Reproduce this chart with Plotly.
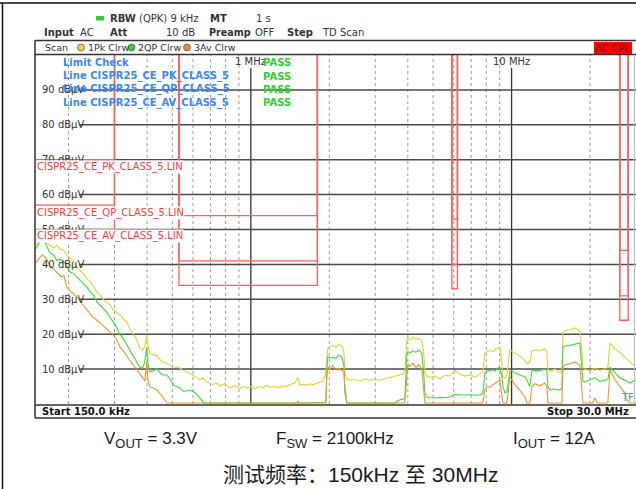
import math
import plotly.graph_objects as go

# ---- measured traces (MHz, dBuV) ----
pk_freq = [0.150, 0.155, 0.161, 0.165, 0.170, 0.176, 0.180, 0.185, 0.192, 0.197,
           0.203, 0.208, 0.215, 0.221, 0.229, 0.235, 0.243, 0.248, 0.257, 0.263,
           0.271, 0.280, 0.288, 0.296, 0.306, 0.315, 0.326, 0.335, 0.343, 0.356,
           0.365, 0.375, 0.385, 0.392, 0.399, 0.403, 0.410, 0.425, 0.436, 0.448,
           0.460, 0.476, 0.489, 0.507, 0.520, 0.534, 0.553, 0.583, 0.610, 0.637,
           0.655, 0.678, 0.715, 0.741, 0.761, 0.795, 0.831, 0.868, 0.907, 0.932,
           0.965, 1.000, 1.036, 1.083, 1.112, 1.152, 1.183, 1.236, 1.292, 1.327,
           1.374, 1.411, 1.475, 1.514, 1.542, 1.583, 1.640, 1.684, 1.729, 1.792,
           1.839, 1.889, 1.940, 1.957, 1.974, 2.009, 2.063, 2.118, 2.176, 2.234,
           2.274, 2.294, 2.335, 2.397, 2.506, 2.619, 2.737, 2.861, 2.990, 3.125,
           3.266, 3.413, 3.567, 3.728, 3.828, 3.897, 3.966, 4.002, 4.073, 4.183,
           4.295, 4.410, 4.529, 4.610, 4.651, 4.733, 4.861, 5.080, 5.309, 5.548,
           5.799, 6.060, 6.334, 6.620, 6.919, 7.232, 7.558, 7.761, 7.899, 8.040,
           8.255, 8.477, 8.630, 8.861, 9.020, 9.181, 9.262, 9.425, 9.594, 9.852,
           10.03, 10.30, 10.76, 11.25, 11.45, 11.75, 11.96, 12.28, 12.84, 13.42,
           13.66, 13.78, 14.03, 14.66, 15.32, 15.60, 15.73, 16.01, 16.73, 17.49,
           18.28, 18.61, 18.77, 19.10, 19.97, 20.87, 21.81, 22.80, 23.40, 23.83,
           24.26, 24.91, 26.03, 27.21, 28.44, 29.20, 30.0]
pk_level = [45.5, 47.0, 47.5, 46.0, 45.5, 44.7, 45.5, 44.5, 44.0, 42.5,
            41.8, 41.0, 39.0, 38.5, 37.0, 36.0, 34.6, 34.0, 32.0, 31.5,
            30.0, 29.2, 28.5, 27.0, 26.3, 25.5, 24.2, 23.5, 21.5, 19.8,
            18.5, 16.0, 15.5, 16.5, 19.8, 17.0, 14.6, 14.0, 14.0, 12.8,
            12.0, 11.7, 11.0, 10.6, 10.6, 10.3, 9.5, 8.9, 8.0, 6.9,
            7.5, 6.2, 5.6, 6.0, 5.2, 5.8, 4.6, 5.2, 4.5, 5.0,
            4.6, 4.9, 4.4, 5.0, 4.7, 5.3, 4.8, 5.0, 4.7, 5.2,
            5.0, 5.6, 6.0, 7.6, 5.5, 5.6, 5.4, 5.8, 5.5, 6.0,
            6.3, 6.5, 9.0, 13.0, 16.0, 16.3, 16.8, 16.2, 17.2, 16.5,
            15.0, 9.0, 7.2, 6.8, 7.0, 6.6, 7.1, 6.8, 7.0, 6.8,
            7.2, 7.5, 7.8, 8.3, 8.6, 9.5, 18.5, 19.0, 18.3, 19.2,
            18.6, 18.8, 18.2, 14.0, 9.0, 8.0, 7.6, 8.0, 7.2, 8.3,
            8.0, 9.6, 8.5, 8.0, 8.4, 7.7, 8.8, 9.2, 14.6, 15.0,
            15.3, 15.0, 15.6, 16.0, 16.3, 12.0, 8.0, 7.4, 8.5, 15.5,
            15.2, 14.5, 13.8, 12.5, 11.5, 12.0, 15.2, 15.5, 15.3, 15.8,
            15.0, 10.0, 9.3, 10.0, 9.0, 9.5, 20.5, 21.0, 21.2, 21.8,
            21.0, 15.0, 10.5, 10.0, 9.5, 10.3, 9.6, 10.0, 10.5, 17.5,
            16.8, 15.8, 14.8, 13.3, 12.0, 11.3, 11.0]

qp_freq = [0.150, 0.155, 0.161, 0.165, 0.169, 0.176, 0.180, 0.185, 0.192, 0.197,
           0.203, 0.208, 0.215, 0.221, 0.229, 0.235, 0.243, 0.248, 0.257, 0.263,
           0.271, 0.280, 0.288, 0.296, 0.306, 0.315, 0.326, 0.335, 0.343, 0.356,
           0.365, 0.375, 0.385, 0.392, 0.399, 0.403, 0.410, 0.425, 0.436, 0.448,
           0.460, 0.476, 0.489, 0.507, 0.534, 0.553, 0.583, 0.610, 0.637, 0.660,
           1.500, 1.514, 1.530, 1.940, 1.957, 1.974, 2.009, 2.063, 2.118, 2.176,
           2.234, 2.274, 2.294, 2.335, 3.567, 3.728, 3.897, 3.966, 4.002, 4.073,
           4.183, 4.295, 4.410, 4.529, 4.610, 4.651, 4.733, 4.861, 5.080, 5.309,
           5.548, 5.799, 6.060, 6.334, 6.620, 6.919, 7.232, 7.558, 7.761, 7.899,
           8.040, 8.255, 8.477, 8.630, 8.861, 9.020, 9.181, 9.262, 9.425, 9.594,
           9.852, 10.03, 10.30, 10.76, 11.25, 11.45, 11.75, 11.96, 12.28, 12.84,
           13.42, 13.66, 13.78, 14.03, 14.66, 15.32, 15.60, 15.73, 16.01, 16.73,
           17.49, 18.28, 18.61, 18.77, 19.10, 19.97, 20.87, 21.81, 22.80, 23.40,
           23.83, 24.26, 24.91, 26.03, 27.21, 28.44, 29.20, 30.0]
qp_level = [44.5, 46.5, 47.0, 45.0, 43.5, 42.5, 41.2, 41.5, 40.7, 39.5,
            37.8, 37.5, 36.4, 35.5, 34.6, 33.5, 32.0, 31.5, 29.2, 28.5,
            27.5, 26.3, 25.0, 23.5, 22.0, 19.8, 18.5, 16.9, 15.5, 13.5,
            12.0, 10.5, 10.3, 12.0, 16.3, 11.5, 9.2, 9.5, 10.3, 9.0,
            8.3, 8.3, 7.2, 5.4, 4.6, 3.6, 4.0, 3.3, 1.8, 0.3,
            0.3, 0.8, 0.3, 0.5, 10.0, 13.5, 13.2, 13.5, 13.0, 14.0,
            13.5, 11.0, 5.0, 0.3, 0.3, 1.2, 1.5, 14.5, 15.0, 14.6,
            15.3, 14.8, 15.5, 14.5, 8.0, 3.0, 2.0, 1.8, 1.7, 1.9,
            1.8, 2.0, 2.8, 2.6, 2.5, 2.7, 2.5, 2.6, 3.0, 8.9,
            9.5, 9.5, 9.8, 9.5, 10.3, 10.5, 8.0, 5.0, 3.2, 3.5,
            9.2, 9.5, 8.9, 8.3, 7.8, 6.9, 5.0, 9.5, 9.7, 9.6,
            10.0, 9.5, 5.0, 4.0, 4.3, 4.0, 4.6, 16.3, 16.6, 16.8,
            17.2, 17.5, 10.0, 6.5, 6.3, 6.8, 7.5, 6.5, 6.8, 7.0,
            10.6, 10.0, 9.0, 7.5, 6.8, 6.0, 6.5, 7.0]

av_freq = [0.150, 0.155, 0.159, 0.165, 0.169, 0.176, 0.180, 0.188, 0.192, 0.197,
           0.202, 0.215, 0.227, 0.235, 0.248, 0.257, 0.271, 0.280, 0.296, 0.306,
           0.315, 0.326, 0.343, 0.356, 0.375, 0.385, 0.392, 0.399, 0.403, 0.410,
           0.425, 0.436, 0.448, 0.460, 0.476, 1.940, 1.957, 1.974, 2.009, 2.063,
           2.118, 2.176, 2.234, 2.274, 2.294, 2.335, 3.897, 3.966, 4.002, 4.073,
           4.183, 4.295, 4.410, 4.529, 4.610, 4.651, 7.761, 7.899, 8.040, 8.255,
           8.477, 8.630, 8.861, 9.020, 9.181, 9.262, 9.594, 9.852, 10.03, 10.30,
           10.76, 11.25, 11.45, 11.75, 11.96, 12.28, 12.84, 13.42, 13.66, 13.78,
           15.60, 15.73, 16.01, 16.73, 17.49, 18.28, 18.61, 18.77, 20.40, 20.87,
           21.30, 23.40, 23.83, 24.26, 24.91, 26.03, 27.21, 27.69, 28.44, 30.0]
av_level = [40.5, 42.0, 42.7, 41.5, 39.8, 38.5, 37.5, 36.4, 36.8, 33.5,
            32.5, 30.7, 28.4, 27.0, 24.9, 24.0, 22.6, 21.5, 19.8, 18.5,
            16.3, 15.0, 12.6, 11.0, 8.9, 7.5, 6.5, 12.0, 7.0, 4.9,
            4.5, 4.0, 3.0, 2.0, 0.3, 0.3, 8.0, 10.6, 10.0, 11.0,
            9.8, 10.3, 9.5, 10.0, 3.0, 0.3, 0.3, 10.0, 11.5, 10.8,
            11.7, 10.5, 11.2, 10.0, 2.0, 0.3, 0.3, 4.0, 5.0, 4.8,
            5.5, 6.0, 6.5, 6.9, 3.0, 0.3, 0.3, 7.7, 6.9, 5.5,
            4.0, 2.0, 0.3, 0.3, 5.0, 5.8, 5.2, 6.0, 5.0, 0.3,
            0.3, 10.5, 11.2, 11.6, 12.0, 11.2, 3.0, 0.3, 0.3, 1.7,
            0.3, 0.3, 9.7, 8.5, 7.0, 5.0, 3.2, 1.0, 0.3, 0.3]

# ---- CISPR 25 class 5 limit lines ----
band_start = [0.15, 0.53, 5.9, 26.0]
band_stop = [0.30, 1.8, 6.2, 28.0]
pk_limit = [70, 54, 53, 44]
qp_limit = [57, 41, 40, 31]
av_limit = [50, 34, 33, 24]

y_grid = [10, 20, 30, 40, 50, 60, 70, 80, 90]
x_dot_grid = [0.2, 0.3, 0.4, 0.5, 0.6, 0.7, 0.8, 0.9,
              2, 3, 4, 5, 6, 7, 8, 9, 20]
x_major = [1, 10]
x_major_labels = ["1 MHz", "10 MHz"]

F0, F1 = 0.15, 30.0
L, R, T, B = 36, 636, 55, 404   # plot box in pixels


def xp(px):
    return (px - L) / (R - L)


def yp(py):
    return (B - py) / (B - T)


def f_at(px):
    lo, hi = math.log10(F0), math.log10(F1)
    return 10 ** (lo + (px - L) / (R - L) * (hi - lo))


FONT = "DejaVu Sans"
fig = go.Figure()

# gridlines
for f in x_dot_grid:
    fig.add_trace(go.Scatter(x=[f, f], y=[0, 100], mode="lines", hoverinfo="skip",
                             line=dict(color="#9a9a9a", width=1, dash="dot"),
                             showlegend=False))
for f in x_major:
    fig.add_trace(go.Scatter(x=[f, f], y=[0, (B - 68) / (B - T) * 100], mode="lines",
                             hoverinfo="skip", line=dict(color="#333333", width=1.3),
                             showlegend=False))
for v in y_grid:
    fig.add_trace(go.Scatter(x=[f_at(79), F1], y=[v, v], mode="lines", hoverinfo="skip",
                             line=dict(color="#4a4a4a", width=1.5), showlegend=False))


def limit_path(levels):
    xs, ys = [], []
    for s, e, lv in zip(band_start, band_stop, levels):
        if s <= F0:
            xs += [s, e, e, None]
            ys += [lv, lv, 100, None]
        else:
            xs += [s, s, e, e, None]
            ys += [100, lv, lv, 100, None]
    return xs, ys


for levels in (pk_limit, qp_limit, av_limit):
    lx, ly = limit_path(levels)
    fig.add_trace(go.Scatter(x=lx, y=ly, mode="lines", hoverinfo="skip",
                             line=dict(color="#ff5c5c", width=1.3), showlegend=False))

# measurement traces: 1 Pk, 2 QP, 3 Av
for fx, lv, col in ((pk_freq, pk_level, "#e4cf3a"),
                    (qp_freq, qp_level, "#3fd83f"),
                    (av_freq, av_level, "#ea9532")):
    fig.add_trace(go.Scatter(x=fx, y=lv, mode="lines", line=dict(color=col, width=1.1),
                             showlegend=False))

ann = []


def text(px, py, s, size=10, color="#333333", anchor="left", bg=None, family=FONT):
    d = dict(x=xp(px), y=yp(py), xref="paper", yref="paper", text=s, showarrow=False,
             xanchor=anchor, yanchor="middle",
             font=dict(family=family, size=size, color=color))
    if bg:
        d.update(bgcolor=bg, borderpad=0)
    ann.append(d)


# y grid labels
for v in y_grid:
    text(40, B - v * (B - T) / 100, "%d dB\u00b5V" % v, color="#333333")
# major x labels
for f, lab in zip(x_major, x_major_labels):
    px = L + (math.log10(f) - math.log10(F0)) / (math.log10(F1) - math.log10(F0)) * (R - L)
    text(px, 62, lab, anchor="center")

# limit line labels
text(36, 167, "CISPR25_CE_PK_CLASS_5.LIN", color="#ff3b3b", bg="white")
text(36, 213, "CISPR25_CE_QP_CLASS_5.LIN", color="#ff3b3b", bg="white")
text(36, 236, "CISPR25_CE_AV_CLASS_5.LIN", color="#ff3b3b", bg="white")

# limit check
blue = "#3d86f5"
text(61, 63, "<b>Limit Check</b>", color=blue)
text(61, 76, "<b>Line CISPR25_CE_PK_CLASS_5</b>", color=blue)
text(61, 89, "<b>Line CISPR25_CE_QP_CLASS_5</b>", color=blue)
text(61, 103, "<b>Line CISPR25_CE_AV_CLASS_5</b>", color=blue)
for y in (63, 76, 89, 103):
    text(261, y, "<b>PASS</b>", color="#2fd02f")

# header
text(108, 18, "<b>RBW</b> (QPK) 9 kHz")
text(208, 18, "<b>MT</b>")
text(273, 18, "1 s", anchor="right")
text(42, 33, "<b>Input</b>")
text(78, 33, "AC")
text(108, 33, "<b>Att</b>")
text(197, 33, "10 dB", anchor="right")
text(207, 33, "<b>Preamp</b>", size=9.6)
text(253, 33, "OFF")
text(285, 33, "<b>Step</b>")
text(320, 33, "TD Scan")
text(43, 47.5, "Scan", size=9.5)
text(85.5, 47.5, "1Pk Clrw", size=9.5)
text(136, 47.5, "2QP Clrw", size=9.5)
text(192, 47.5, "3Av Clrw", size=9.5)
text(613, 48, "AC CPL", color="#7a0000", anchor="center")
text(40, 411, "<b>Start 150.0 kHz</b>", color="#111111")
text(631, 411, "<b>Stop 30.0 MHz</b>", color="#111111", anchor="right")
text(636, 397, "TF", color="#5b8db8", anchor="right")

# caption
cap = "Liberation Sans, Arial, Noto Sans CJK SC"
sub = "<sub><span style='font-size:13px'>%s</span></sub>"
text(102, 440, "V" + sub % "OUT" + " = 3.3V", size=17, color="#1a1a1a", family=cap)
text(274, 440, "F" + sub % "SW" + " = 2100kHz", size=17, color="#1a1a1a", family=cap)
text(511, 440, "I" + sub % "OUT" + " = 12A", size=17, color="#1a1a1a", family=cap)
text(360, 474, "测试频率：150kHz 至 30MHz", size=21, color="#1a1a1a", family=cap,
     anchor="center")

shapes = []


def pline(x0, y0, x1, y1, color="#333333", width=1.5):
    shapes.append(dict(type="line", xref="paper", yref="paper", x0=xp(x0), y0=yp(y0),
                       x1=xp(x1), y1=yp(y1), line=dict(color=color, width=width)))


def prect(x0, y0, x1, y1, fill, color=None, width=0):
    shapes.append(dict(type="rect", xref="paper", yref="paper", x0=xp(x0), y0=yp(y0),
                       x1=xp(x1), y1=yp(y1), fillcolor=fill,
                       line=dict(color=color or fill, width=width)))


# document frame
pline(0, 3, 640, 3, "#111111", 1.5)
pline(2.5, 3, 2.5, 489, "#111111", 1.5)
# instrument frame
pline(35, 40.5, 640, 40.5)
pline(35, 54.5, 640, 54.5)
pline(35, 40.5, 35, 418)
pline(35, 405, 640, 405)
pline(35, 418, 640, 418)
pline(634.5, 55, 634.5, 404, "#9fc4dc", 1)
prect(594, 42, 632, 54, "#ff0000")
# header status pill
prect(96, 16, 104, 20.5, "#33cc33")
# scan trace dots
for cx, col in ((81, "#e8d040"), (131.5, "#33cc33"), (187, "#e09030")):
    shapes.append(dict(type="circle", xref="paper", yref="paper",
                       x0=xp(cx - 3.5), x1=xp(cx + 3.5), y0=yp(47.5 + 3.5), y1=yp(47.5 - 3.5),
                       fillcolor=col, line=dict(color="#666666", width=0.8)))

fig.update_layout(
    width=636, height=489,
    margin=dict(l=L, r=636 - R, t=T, b=489 - B),
    paper_bgcolor="white", plot_bgcolor="white",
    xaxis=dict(type="log", range=[math.log10(F0), math.log10(F1)], showgrid=False,
               zeroline=False, showticklabels=False, ticks=""),
    yaxis=dict(range=[0, 100], showgrid=False, zeroline=False, showticklabels=False,
               ticks=""),
    annotations=ann, shapes=shapes, showlegend=False,
)

fig.write_html("out.html", config={"displayModeBar": False},
               post_script="document.body.style.margin='0';"
                           "document.body.style.overflow='hidden';")
